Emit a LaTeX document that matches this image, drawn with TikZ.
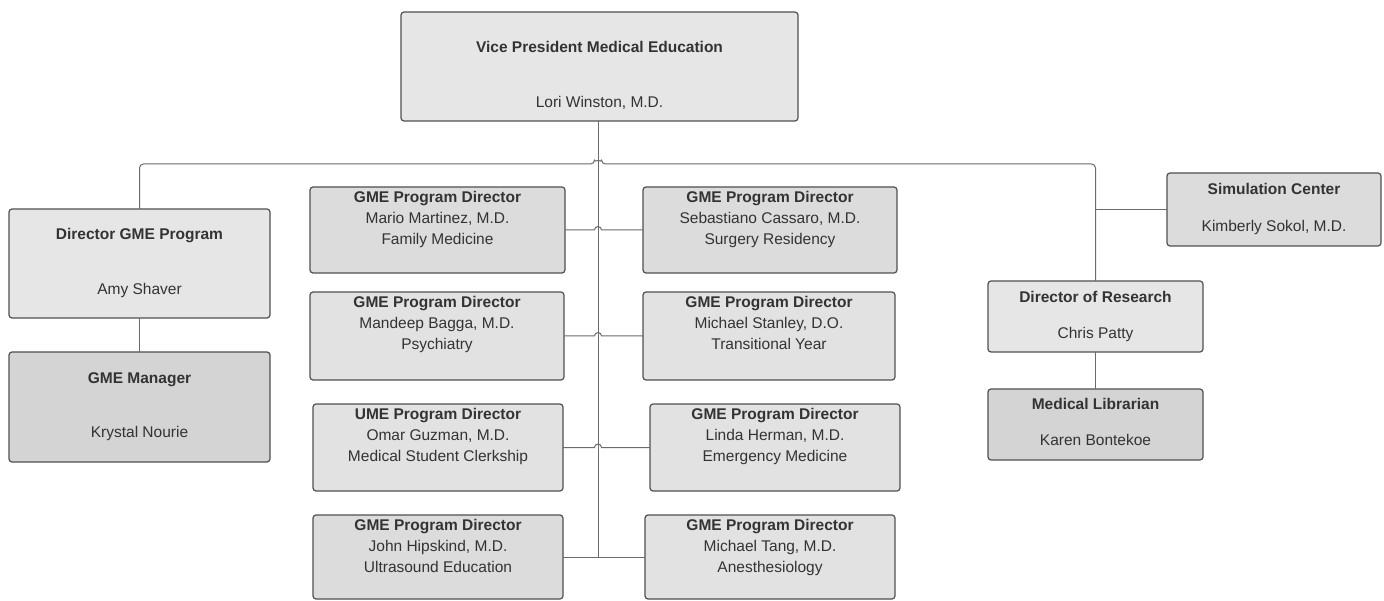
\documentclass[tikz,border=0pt]{standalone}
\usepackage{fontspec}
\setmainfont{Liberation Sans}
\definecolor{lineC}{HTML}{6A6A6A}
\definecolor{borderC}{HTML}{505050}
\definecolor{textC}{HTML}{333333}
\definecolor{fA}{HTML}{E6E6E6}
\definecolor{fB}{HTML}{DCDCDC}
\definecolor{fC}{HTML}{D4D4D4}
\definecolor{fD}{HTML}{E2E2E2}
\tikzset{
  orgbox/.style={draw=borderC, line width=1.2pt, rounded corners=3pt, inner sep=0pt, outer sep=0pt},
  txt/.style={inner sep=0pt, outer sep=0pt, align=center, text=textC, anchor=north, font=\fontsize{15.5}{21}\selectfont},
  conn/.style={draw=lineC, line width=1pt},
}
\begin{document}
\begin{tikzpicture}[x=1pt,y=1pt]
\useasboundingbox (0,0) rectangle (1384,-601);
% boxes
\node[orgbox, fill=fA, minimum width=397, minimum height=109] (VP) at (599.5,-66.5) {};
\node[orgbox, fill=fA, minimum width=261, minimum height=109] (DirGME) at (139.5,-263.5) {};
\node[orgbox, fill=fC, minimum width=261, minimum height=110] (Mgr) at (139.5,-407) {};
\node[orgbox, fill=fB, minimum width=255, minimum height=86] (Mario) at (437.5,-230) {};
\node[orgbox, fill=fB, minimum width=254, minimum height=86] (Seb) at (770,-230) {};
\node[orgbox, fill=fD, minimum width=254, minimum height=88] (Mandeep) at (437,-336) {};
\node[orgbox, fill=fD, minimum width=252, minimum height=88] (Stanley) at (769,-336) {};
\node[orgbox, fill=fD, minimum width=250, minimum height=87] (Omar) at (438,-447.5) {};
\node[orgbox, fill=fD, minimum width=250, minimum height=87] (Linda) at (775,-447.5) {};
\node[orgbox, fill=fB, minimum width=250, minimum height=84] (John) at (438,-557) {};
\node[orgbox, fill=fD, minimum width=250, minimum height=84] (Tang) at (770,-557) {};
\node[orgbox, fill=fB, minimum width=214, minimum height=73] (SimC) at (1274,-209.5) {};
\node[orgbox, fill=fA, minimum width=215, minimum height=71] (DirRes) at (1095.5,-316.5) {};
\node[orgbox, fill=fC, minimum width=215, minimum height=71] (MedLib) at (1095.5,-424.5) {};
% texts
\node[txt] (VP-t) at ([yshift=-29.5]VP.north) {\textbf{Vice President Medical Education}\\[34pt]Lori Winston, M.D.};
\node[txt] (DirGME-t) at ([yshift=-19.5]DirGME.north) {\textbf{Director GME Program}\\[34pt]Amy Shaver};
\node[txt] (Mgr-t) at ([yshift=-20.5]Mgr.north) {\textbf{GME Manager}\\[33pt]Krystal Nourie};
\node[txt] (Mario-t) at ([yshift=-4.5]Mario.north) {\textbf{GME Program Director}\\Mario Martinez, M.D.\\Family Medicine};
\node[txt] (Seb-t) at ([yshift=-4.5]Seb.north) {\textbf{GME Program Director}\\Sebastiano Cassaro, M.D.\\Surgery Residency};
\node[txt] (Mandeep-t) at ([yshift=-4]Mandeep.north) {\textbf{GME Program Director}\\Mandeep Bagga, M.D.\\Psychiatry};
\node[txt] (Stanley-t) at ([yshift=-4]Stanley.north) {\textbf{GME Program Director}\\Michael Stanley, D.O.\\Transitional Year};
\node[txt] (Omar-t) at ([yshift=-4]Omar.north) {\textbf{UME Program Director}\\Omar Guzman, M.D.\\Medical Student Clerkship};
\node[txt] (Linda-t) at ([yshift=-4]Linda.north) {\textbf{GME Program Director}\\Linda Herman, M.D.\\Emergency Medicine};
\node[txt] (John-t) at ([yshift=-4]John.north) {\textbf{GME Program Director}\\John Hipskind, M.D.\\Ultrasound Education};
\node[txt] (Tang-t) at ([yshift=-4]Tang.north) {\textbf{GME Program Director}\\Michael Tang, M.D.\\Anesthesiology};
\node[txt] (SimC-t) at ([yshift=-10.5]SimC.north) {\textbf{Simulation Center}\\[16pt]Kimberly Sokol, M.D.};
\node[txt] (DirRes-t) at ([yshift=-10.5]DirRes.north) {\textbf{Director of Research}\\[15pt]Chris Patty};
\node[txt] (MedLib-t) at ([yshift=-9.5]MedLib.north) {\textbf{Medical Librarian}\\[15pt]Karen Bontekoe};
% connectors
\coordinate (bus) at (598,-164);
\coordinate (trunkEnd) at (598,-557);
\path[conn] (VP.south -| bus) -- (trunkEnd);
\path[conn] (John.east) -- (Tang.west);
\path[conn, rounded corners=4pt] (DirGME.north) |- ([xshift=-3.5]bus) arc[start angle=180,end angle=0,radius=3.5] -| (DirRes.north);
\path[conn] (DirRes.north |- SimC.west) -- (SimC.west);
\path[conn] (Mario.east) -- ([xshift=-3.5]Mario.east -| bus) arc[start angle=180,end angle=0,radius=3.5] -- (Seb.west);
\path[conn] (Mandeep.east) -- ([xshift=-3.5]Mandeep.east -| bus) arc[start angle=180,end angle=0,radius=3.5] -- (Stanley.west);
\path[conn] (Omar.east) -- ([xshift=-3.5]Omar.east -| bus) arc[start angle=180,end angle=0,radius=3.5] -- (Linda.west);
\path[conn] (DirGME.south) -- (Mgr.north);
\path[conn] (DirRes.south) -- (MedLib.north);
\end{tikzpicture}
\end{document}
